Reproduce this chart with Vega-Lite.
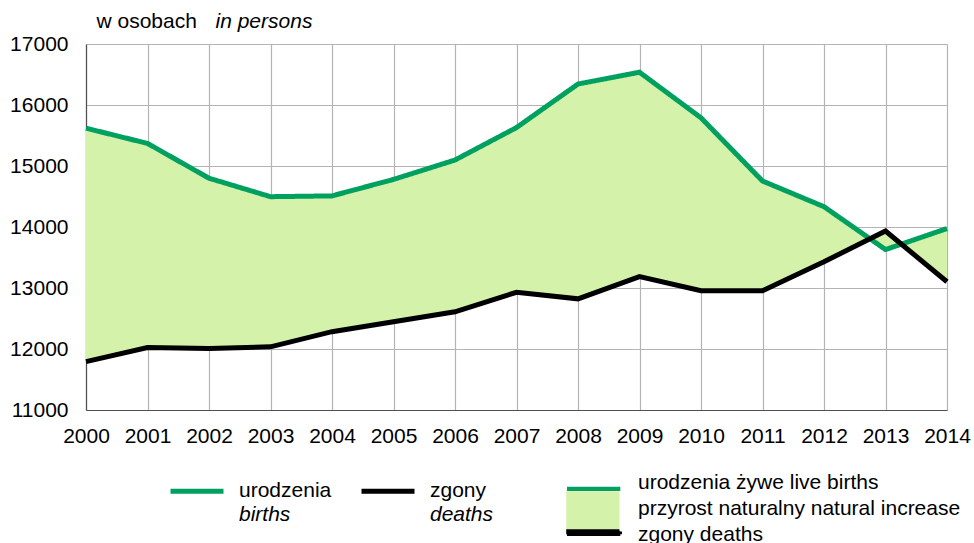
{
  "$schema": "https://vega.github.io/schema/vega-lite/v6.json",
  "width": 861,
  "height": 366,
  "autosize": {"type": "none"},
  "padding": {"left": 86, "top": 44, "right": 27, "bottom": 133},
  "background": "#ffffff",
  "config": {
    "font": "Liberation Sans",
    "view": {"stroke": null},
    "axis": {"labelFont": "Liberation Sans", "labelFontSize": 21, "labelColor": "#000000", "titleFont": "Liberation Sans"},
    "legend": {"labelFont": "Liberation Sans", "labelFontSize": 21, "labelColor": "#000000", "padding": 0, "labelLimit": 600}
  },
  "data": {
    "values": [
      {"year": 2000, "series": "urodzenia", "series_en": "births", "value": 15620},
      {"year": 2001, "series": "urodzenia", "series_en": "births", "value": 15370},
      {"year": 2002, "series": "urodzenia", "series_en": "births", "value": 14800},
      {"year": 2003, "series": "urodzenia", "series_en": "births", "value": 14497},
      {"year": 2004, "series": "urodzenia", "series_en": "births", "value": 14510},
      {"year": 2005, "series": "urodzenia", "series_en": "births", "value": 14780},
      {"year": 2006, "series": "urodzenia", "series_en": "births", "value": 15098},
      {"year": 2007, "series": "urodzenia", "series_en": "births", "value": 15630},
      {"year": 2008, "series": "urodzenia", "series_en": "births", "value": 16344},
      {"year": 2009, "series": "urodzenia", "series_en": "births", "value": 16537},
      {"year": 2010, "series": "urodzenia", "series_en": "births", "value": 15790},
      {"year": 2011, "series": "urodzenia", "series_en": "births", "value": 14754},
      {"year": 2012, "series": "urodzenia", "series_en": "births", "value": 14333},
      {"year": 2013, "series": "urodzenia", "series_en": "births", "value": 13630},
      {"year": 2014, "series": "urodzenia", "series_en": "births", "value": 13975},
      {"year": 2000, "series": "zgony", "series_en": "deaths", "value": 11792},
      {"year": 2001, "series": "zgony", "series_en": "deaths", "value": 12025},
      {"year": 2002, "series": "zgony", "series_en": "deaths", "value": 12010},
      {"year": 2003, "series": "zgony", "series_en": "deaths", "value": 12036},
      {"year": 2004, "series": "zgony", "series_en": "deaths", "value": 12284},
      {"year": 2005, "series": "zgony", "series_en": "deaths", "value": 12447},
      {"year": 2006, "series": "zgony", "series_en": "deaths", "value": 12610},
      {"year": 2007, "series": "zgony", "series_en": "deaths", "value": 12930},
      {"year": 2008, "series": "zgony", "series_en": "deaths", "value": 12822},
      {"year": 2009, "series": "zgony", "series_en": "deaths", "value": 13188},
      {"year": 2010, "series": "zgony", "series_en": "deaths", "value": 12955},
      {"year": 2011, "series": "zgony", "series_en": "deaths", "value": 12955},
      {"year": 2012, "series": "zgony", "series_en": "deaths", "value": 13430},
      {"year": 2013, "series": "zgony", "series_en": "deaths", "value": 13934},
      {"year": 2014, "series": "zgony", "series_en": "deaths", "value": 13102}
    ]
  },
  "layer": [
    {
      "transform": [{"pivot": "series", "value": "value", "groupby": ["year"]}],
      "mark": {"type": "area"},
      "encoding": {
        "x": {"field": "year", "type": "quantitative",
          "scale": {"domain": [2000, 2014], "nice": false, "zero": false},
          "axis": {"values": [2000,2001,2002,2003,2004,2005,2006,2007,2008,2009,2010,2011,2012,2013,2014], "format": "d", "labelFlush": false, "ticks": false, "labelPadding": 15, "grid": true, "gridColor": "#b4b4b4", "gridWidth": 1.2, "domainColor": "#505050", "domainWidth": 1.2,
            "title": "in persons", "titleFontStyle": "italic", "titleFontWeight": "normal", "titleFontSize": 21, "titleColor": "#000000", "titleAnchor": null, "titleAlign": "left", "titleBaseline": "alphabetic", "titleX": 129, "titleY": -383, "titleAngle": 0}},
        "y": {"field": "urodzenia", "type": "quantitative",
          "scale": {"domain": [11000, 17000], "nice": false, "zero": false},
          "axis": {"values": [11000,12000,13000,14000,15000,16000,17000], "format": "d", "ticks": false, "labelPadding": 18, "grid": true, "gridColor": "#b4b4b4", "gridWidth": 1.2, "domainColor": "#505050", "domainWidth": 1.2,
            "title": "w osobach", "titleFontWeight": "normal", "titleFontSize": 21, "titleColor": "#000000", "titleAlign": "left", "titleBaseline": "alphabetic", "titleAngle": 0, "titleX": 10, "titleY": -17}},
        "y2": {"field": "zgony"},
        "fill": {"datum": "przyrost naturalny natural increase", "type": "nominal",
          "scale": {"domain": ["urodzenia żywe live births", "przyrost naturalny natural increase", "zgony deaths"], "range": ["#00a060", "#d5f2aa", "#000000"]},
          "legend": {"orient": "none", "legendX": 481, "legendY": 428, "direction": "vertical", "title": null,
            "symbolSize": 100, "symbolStrokeWidth": 0, "labelOffset": 50, "rowPadding": 0,
            "encode": {"symbols": {"update": {"shape": {"signal": "datum.value === 'urodzenia żywe live births' ? 'M-2.1,0.84H8.56V1.7H-2.1Z M0,2.9Z' : datum.value === 'zgony deaths' ? 'M-2.1,-0.64H8.56V0.3H-2.1Z M0,2.9Z' : 'M0,0Z M0,2.9Z'"}, "strokeWidth": {"value": 0}, "opacity": {"value": 1}}}}}}
      }
    },
    {
      "transform": [{"filter": "datum.series === 'urodzenia'"}],
      "mark": {"type": "line", "strokeWidth": 5, "strokeJoin": "miter", "strokeCap": "butt"},
      "encoding": {
        "x": {"field": "year", "type": "quantitative"},
        "y": {"field": "value", "type": "quantitative"},
        "stroke": {"datum": "urodzenia", "type": "nominal",
          "scale": {"domain": ["urodzenia", "zgony"], "range": ["#00a060", "#000000"]},
          "legend": {"orient": "none", "legendX": 82, "legendY": 418, "direction": "horizontal", "title": null,
            "symbolType": "stroke", "symbolSize": 2809, "symbolStrokeWidth": 5, "labelOffset": 13, "columnPadding": 19,
            "encode": {"symbols": {"update": {
              "shape": {"signal": "datum.value === 'zgony' ? 'M-1,0H1 M6.725,1.534H8.736V0H6.725Z' : 'M-1,0H1 M0,1.534Z'"},
              "fill": {"signal": "datum.value === 'zgony' ? '#d5f2aa' : 'transparent'"},
              "fillOpacity": {"value": 1},
              "strokeCap": {"value": "butt"},
              "strokeDash": {"signal": "datum.value === 'zgony' ? [53.5, 2000] : [1, 0]"}}}}}},
        "strokeDash": {"field": "series_en", "type": "nominal",
          "scale": {"domain": ["births", "deaths"], "range": [[1,0],[1,0]]},
          "legend": {"orient": "none", "legendX": 82, "legendY": 442, "direction": "horizontal", "title": null,
            "symbolType": "stroke", "symbolSize": 2809, "symbolStrokeWidth": 5, "symbolOpacity": 0, "labelOffset": 13, "columnPadding": 68, "labelFontStyle": "italic"}}
      }
    },
    {
      "transform": [{"filter": "datum.series === 'zgony'"}],
      "mark": {"type": "line", "strokeWidth": 5, "strokeJoin": "miter", "strokeCap": "butt"},
      "encoding": {
        "x": {"field": "year", "type": "quantitative"},
        "y": {"field": "value", "type": "quantitative"},
        "stroke": {"datum": "zgony", "type": "nominal",
          "scale": {"domain": ["urodzenia", "zgony"], "range": ["#00a060", "#000000"]},
          "legend": {"orient": "none", "legendX": 82, "legendY": 418, "direction": "horizontal", "title": null,
            "symbolType": "stroke", "symbolSize": 2809, "symbolStrokeWidth": 5, "labelOffset": 13, "columnPadding": 19,
            "encode": {"symbols": {"update": {
              "shape": {"signal": "datum.value === 'zgony' ? 'M-1,0H1 M6.725,1.534H8.736V0H6.725Z' : 'M-1,0H1 M0,1.534Z'"},
              "fill": {"signal": "datum.value === 'zgony' ? '#d5f2aa' : 'transparent'"},
              "fillOpacity": {"value": 1},
              "strokeCap": {"value": "butt"},
              "strokeDash": {"signal": "datum.value === 'zgony' ? [53.5, 2000] : [1, 0]"}}}}}}
      }
    }
  ]
}
